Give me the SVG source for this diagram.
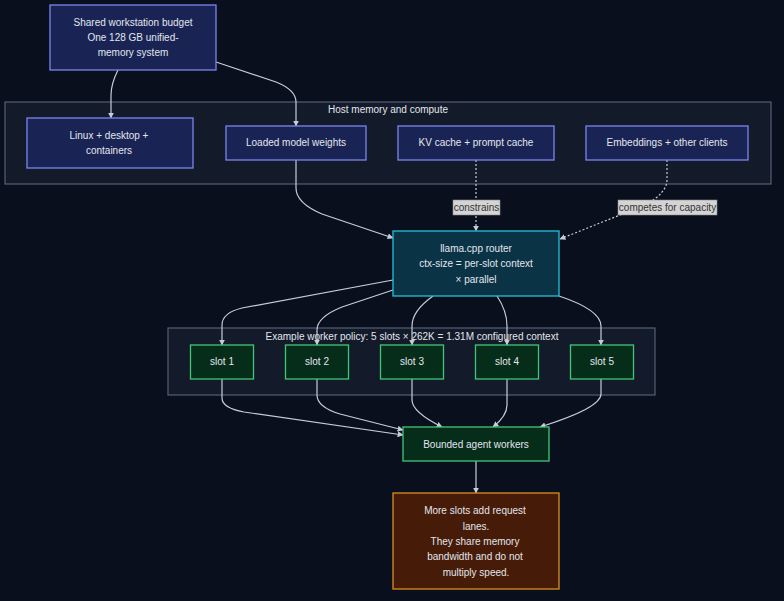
<svg xmlns="http://www.w3.org/2000/svg" width="784" height="601" viewBox="0 0 784 601">
<style>
text{font-family:"Liberation Sans",Arial,sans-serif;font-size:10px;fill:#e2e6ee;text-anchor:middle}
.cl{fill:#131a29;stroke:#536074;stroke-width:1.2}
.n{fill:#1a2454;stroke:#7c84f0;stroke-width:1.3}
.r{fill:#0b3346;stroke:#22c0d8;stroke-width:1.3}
.s{fill:#062c1a;stroke:#3fc777;stroke-width:1.3}
.o{fill:#461b07;stroke:#d98f23;stroke-width:1.3}
.e{fill:none;stroke:#c6ccd8;stroke-width:1.2}
.d{fill:none;stroke:#c6ccd8;stroke-width:1.2;stroke-dasharray:2 2}
.lb{fill:#d4d4d4;stroke:#8a8a8a;stroke-width:0.6}
.lt{fill:#333}
</style>
<defs>
<marker id="a" viewBox="0 0 10 10" refX="9" refY="5" markerWidth="5" markerHeight="5" orient="auto"><path d="M0,0L10,5L0,10z" fill="#c6ccd8"/></marker>
</defs>
<rect width="784" height="601" fill="#0a0f1e"/>
<g id="cluster-host"><rect class="cl" x="5" y="102" width="766" height="82"/><text x="388" y="113">Host memory and compute</text></g>
<g id="cluster-slots"><rect class="cl" x="168" y="328" width="487" height="67"/><text x="412" y="340">Example worker policy: 5 slots × 262K = 1.31M configured context</text></g>
<g id="edges">
<path class="e" d="M118,70 Q111,84 111,95 L111,118" marker-end="url(#a)"/>
<path class="e" d="M216,62 L276,82 Q296,90 296,102 L296,126" marker-end="url(#a)"/>
<path class="e" d="M296,160 L296,188 Q296,203 322,214 L393,238" marker-end="url(#a)"/>
<path class="d" d="M476,160 L476,231" marker-end="url(#a)"/>
<path class="d" d="M667,160 L667,180 Q667,193 645,205 L560,239" marker-end="url(#a)"/>
<path class="e" d="M393,280 L242,308 Q222,313 222,325 L222,345" marker-end="url(#a)"/>
<path class="e" d="M393,290 L342,307 Q317,317 317,330 L317,345" marker-end="url(#a)"/>
<path class="e" d="M433,296 Q412,311 412,326 L412,345" marker-end="url(#a)"/>
<path class="e" d="M497,296 Q507,311 507,326 L507,345" marker-end="url(#a)"/>
<path class="e" d="M559,296 Q601,310 601,326 L601,345" marker-end="url(#a)"/>
<path class="e" d="M222,379 L222,398 Q222,408 244,412 L403,435" marker-end="url(#a)"/>
<path class="e" d="M317,379 L317,395 Q317,407 340,414 L403,430" marker-end="url(#a)"/>
<path class="e" d="M412,379 L412,400 Q412,412 442,427" marker-end="url(#a)"/>
<path class="e" d="M507,379 L507,405 Q507,416 493,427" marker-end="url(#a)"/>
<path class="e" d="M601,379 L601,394 Q601,408 540,427" marker-end="url(#a)"/>
<path class="e" d="M476,461 L476,493" marker-end="url(#a)"/>
<rect class="lb" x="453" y="200" width="47" height="15"/><text class="lt" x="476.5" y="211">constrains</text>
<rect class="lb" x="618" y="200" width="99" height="15"/><text class="lt" x="667.5" y="211">competes for capacity</text>
</g>
<g id="budget"><rect class="n" x="50" y="5" width="166" height="65"/><text x="133" y="26">Shared workstation budget</text><text x="133" y="41">One 128 GB unified-</text><text x="133" y="56">memory system</text></g>
<g id="linux"><rect class="n" x="27" y="118" width="166" height="50"/><text x="109" y="139">Linux + desktop +</text><text x="109" y="154">containers</text></g>
<g id="weights"><rect class="n" x="226" y="126" width="140" height="34"/><text x="296" y="146">Loaded model weights</text></g>
<g id="kv"><rect class="n" x="398" y="126" width="156" height="34"/><text x="476" y="146">KV cache + prompt cache</text></g>
<g id="emb"><rect class="n" x="586" y="126" width="162" height="34"/><text x="667" y="146">Embeddings + other clients</text></g>
<g id="router"><rect class="r" x="393" y="231" width="166" height="65"/><text x="476" y="252">llama.cpp router</text><text x="476" y="267">ctx-size = per-slot context</text><text x="476" y="283">× parallel</text></g>
<g id="slot1"><rect class="s" x="190.5" y="345" width="63" height="34"/><text x="222" y="365">slot 1</text></g>
<g id="slot2"><rect class="s" x="285.5" y="345" width="63" height="34"/><text x="317" y="365">slot 2</text></g>
<g id="slot3"><rect class="s" x="380.5" y="345" width="63" height="34"/><text x="412" y="365">slot 3</text></g>
<g id="slot4"><rect class="s" x="475.5" y="345" width="63" height="34"/><text x="507" y="365">slot 4</text></g>
<g id="slot5"><rect class="s" x="570.5" y="345" width="63" height="34"/><text x="602" y="365">slot 5</text></g>
<g id="workers"><rect class="s" x="403" y="427" width="146" height="34"/><text x="476" y="448">Bounded agent workers</text></g>
<g id="note"><rect class="o" x="393" y="493" width="166" height="96"/><text x="475" y="514">More slots add request</text><text x="476" y="530">lanes.</text><text x="475" y="545">They share memory</text><text x="475" y="560">bandwidth and do not</text><text x="476" y="576">multiply speed.</text></g>
</svg>
